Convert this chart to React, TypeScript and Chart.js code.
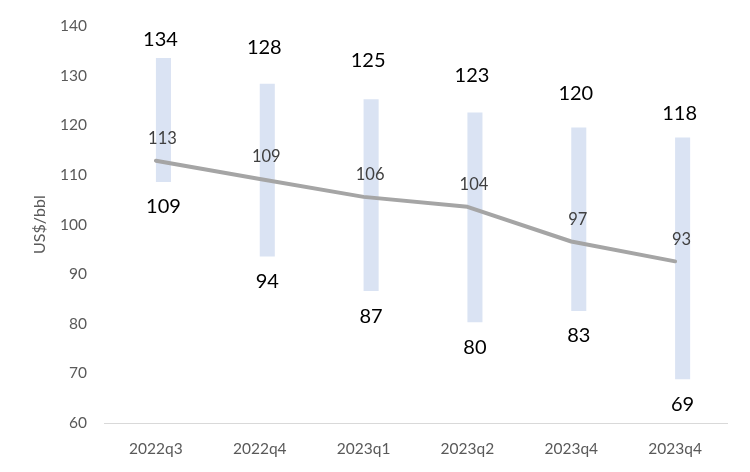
import React, { useEffect, useRef } from "react";
import { Chart, registerables } from "chart.js";

Chart.register(...registerables);

const categories = ["2022q3", "2022q4", "2023q1", "2023q2", "2023q4", "2023q4"];
const highValues = [133.6, 128.4, 125.3, 122.6, 119.6, 117.6];
const lowValues = [108.6, 93.6, 86.6, 80.3, 82.6, 68.8];
const avgValues = [112.9, 109.2, 105.6, 103.6, 96.6, 92.6];
const yTicks = [60, 70, 80, 90, 100, 110, 120, 130, 140];

// label placement (pixels above bar top), as in the original layout
const highLabelGap = [18, 36, 39, 37, 34, 24];

const FONT = "Lato, 'Open Sans', sans-serif";

const labelPlugin = {
  id: "rangeLabels",
  afterDatasetsDraw(chart: any) {
    const ctx = chart.ctx;
    const y = chart.scales.y;
    const barMeta = chart.getDatasetMeta(1);
    const lineMeta = chart.getDatasetMeta(2);
    ctx.save();
    ctx.textAlign = "center";
    ctx.textBaseline = "middle";
    barMeta.data.forEach((bar: any, i: number) => {
      const bx = bar.x;
      ctx.fillStyle = "#000000";
      ctx.font = `20px ${FONT}`;
      ctx.fillText(String(Math.round(highValues[i])), bx - 3, y.getPixelForValue(highValues[i]) - highLabelGap[i]);
      ctx.fillText(String(Math.round(lowValues[i])), bx, y.getPixelForValue(lowValues[i]) + 25);
      const pt = lineMeta.data[i];
      ctx.fillStyle = "#404040";
      ctx.font = `16.5px ${FONT}`;
      ctx.fillText(String(Math.round(avgValues[i])), bx - 1, pt.y - 22);
    });
    ctx.restore();
  },
};

export default function App() {
  const ref = useRef<HTMLCanvasElement | null>(null);
  useEffect(() => {
    if (!ref.current) return;
    const chart = new Chart(ref.current, {
      type: "bar",
      data: {
        labels: categories,
        datasets: [
          {
            type: "bar",
            label: "spacer",
            data: categories.map(() => null),
            backgroundColor: "rgba(0,0,0,0)",
            categoryPercentage: 0.29,
            barPercentage: 1.0,
            order: 1,
          } as any,
          {
            type: "bar",
            label: "range",
            data: highValues.map((h, i) => [lowValues[i], h]),
            backgroundColor: "#dae3f3",
            borderWidth: 0,
            categoryPercentage: 0.29,
            barPercentage: 1.0,
            order: 2,
          } as any,
          {
            type: "line",
            label: "avg",
            data: avgValues,
            borderColor: "#a5a5a5",
            borderWidth: 4,
            pointRadius: 0,
            tension: 0,
            borderCapStyle: "round",
            borderJoinStyle: "round",
            order: 0,
          } as any,
        ],
      },
      options: {
        responsive: false,
        animation: false,
        layout: { padding: { top: 23, right: 23, left: 0, bottom: 0 } },
        plugins: {
          legend: { display: false },
          tooltip: { enabled: false },
        },
        scales: {
          x: {
            grid: { display: false, drawTicks: false },
            border: { display: true, color: "#d9d9d9", width: 1 },
            ticks: {
              color: "#595959",
              font: { family: FONT, size: 15.5 },
              padding: 17,
              maxRotation: 0,
            },
            afterFit(scale: any) {
              scale.height = 49;
            },
          },
          y: {
            min: 60,
            max: 140,
            afterBuildTicks(scale: any) {
              scale.ticks = yTicks.map((v) => ({ value: v }));
            },
            grid: { display: false, drawTicks: false },
            border: { display: false },
            ticks: {
              color: "#595959",
              font: { family: FONT, size: 15.5 },
              padding: 17,
            },
            title: {
              display: true,
              text: "US$/bbl",
              color: "#595959",
              font: { family: FONT, size: 16 },
              padding: { top: 30, bottom: 0 },
            },
            afterFit(scale: any) {
              scale.width = 104;
            },
          },
        },
      },
      plugins: [labelPlugin],
    });
    return () => chart.destroy();
  }, []);
  return (
    <div style={{ position: "fixed", left: 0, top: 0, width: 750, height: 472, background: "#fff" }}>
      <canvas ref={ref} width={750} height={472} style={{ width: 750, height: 472 }} />
    </div>
  );
}
